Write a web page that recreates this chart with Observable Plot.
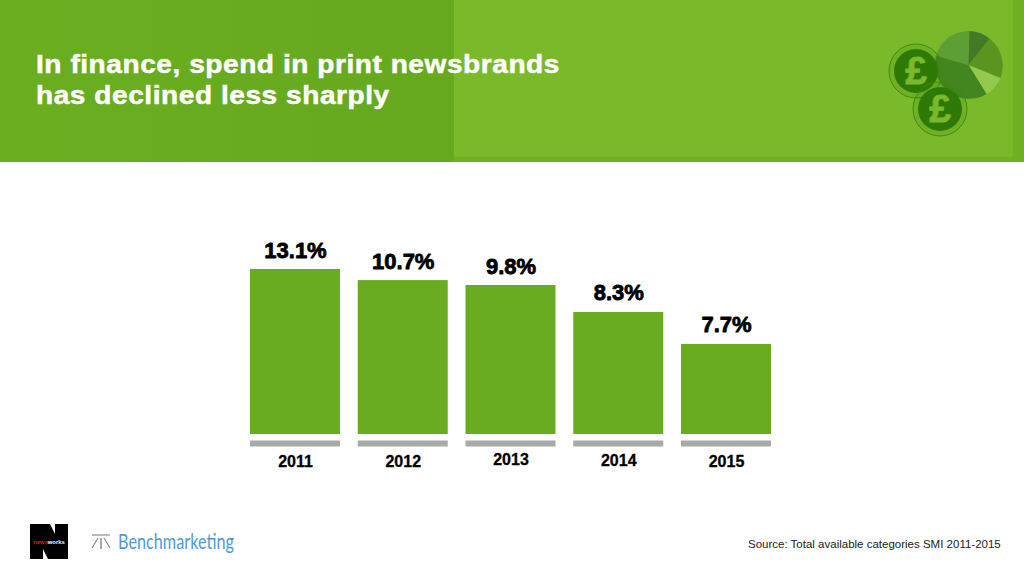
<!DOCTYPE html>
<html><head><meta charset="utf-8">
<script src="https://cdn.jsdelivr.net/npm/d3@7"></script>
<script src="https://cdn.jsdelivr.net/npm/@observablehq/plot@0.6"></script>
<style>
html,body{margin:0;padding:0;background:#fff;width:1024px;height:576px;overflow:hidden;font-family:"Liberation Sans",Arial,sans-serif}
#page{position:relative;width:1024px;height:576px;overflow:hidden}
#hdr{position:absolute;left:0;top:0;width:1024px;height:162px;background:linear-gradient(90deg,#6aae20 0,#66a91f 454px,#70b024 454px)}
#panel{position:absolute;left:454px;top:0;width:559px;height:157px;background:#7aba2a;border-radius:0 0 3px 3px}
#title{position:absolute;left:36px;top:49px;color:#fff;font-weight:700;font-size:26px;line-height:31px;letter-spacing:0.5px;white-space:nowrap;transform:scaleX(1.08);transform-origin:0 0;-webkit-text-stroke:0.5px #fff}
#plot{position:absolute;left:0;top:200px}
#src{position:absolute;left:748px;top:538px;font-size:11.5px;color:#222;white-space:nowrap}
#deco,#logos{position:absolute;left:0;top:0}
</style></head><body>
<div id="page">
<div id="hdr"></div><div id="panel"></div>
<svg id="deco" width="1024" height="162">
 <g transform="translate(968.5,65)">
  <circle r="34" fill="#5f9e35"/>
  <path d="M0,0L1,-34A34,34 0 0 1 21,-26Z" fill="#437a25"/>
  <path d="M0,0L21,-26A34,34 0 0 1 32,13Z" fill="#5a9520"/>
  <path d="M0,0L32,13A34,34 0 0 1 18,29Z" fill="#93c94f"/>
  <path d="M0,0L18,29A34,34 0 0 1 -32,-9Z" fill="#43861f"/>
 </g>
 <g font-family="Liberation Sans" font-weight="700" font-size="39" text-anchor="middle" fill="#7aba2a" stroke="#7aba2a" stroke-width="0.8">
  <circle cx="916" cy="71" r="27" fill="#2f7a0622" stroke="#3f8a12" stroke-width="1"/>
  <circle cx="916" cy="71" r="22" fill="#2f7a06" stroke="none"/>
  <text x="916" y="84">£</text>
  <circle cx="940" cy="109" r="27" fill="#2f7a0622" stroke="#3f8a12" stroke-width="1"/>
  <circle cx="940" cy="109" r="22" fill="#2f7a06" stroke="none"/>
  <text x="940" y="122">£</text>
 </g>
</svg>
<div id="title">In finance, spend in print newsbrands<br>has declined less sharply</div>
<div id="plot"></div>
<svg id="logos" width="420" height="576" style="pointer-events:none">
 <path d="M30,524H50L55,534V524H68V559H48L43,549V559H30Z" fill="#000"/>
 <text x="49" y="544" text-anchor="middle" font-family="Liberation Sans" font-weight="700" font-size="5.8" fill="#fff"><tspan fill="#d92020">news</tspan>works</text>
 <g stroke="#8c8c8c" stroke-width="1.2" fill="none"><path d="M92,535H110"/><path d="M101,538V549" stroke-width="1.5"/><path d="M98,538L92,548"/><path d="M104,538L110,548"/></g>
 <text x="118" y="549" font-family="Lato" font-weight="400" font-size="20.5" fill="#4f9ad6" textLength="116" lengthAdjust="spacingAndGlyphs">Benchmarketing</text>
</svg>
<div id="src">Source: Total available categories SMI 2011-2015</div>
</div>
<script>
const years = ["2011","2012","2013","2014","2015"];
const shareLabels = ["13.1%","10.7%","9.8%","8.3%","7.7%"];
// Bar lengths as pictured: the source's bars are not proportional to their printed labels.
const drawnBarLevels = [13.1,12.22,11.83,9.69,7.15];
const yearLabelLift = [0,0,2,1,0];

const rows = years.map((year,i)=>({year,label:shareLabels[i],level:drawnBarLevels[i],lift:yearLabelLift[i]}));
const dark = "#000";
const chart = Plot.plot({
  width:1024,height:290,margin:0,
  style:{background:"transparent",fontFamily:"Liberation Sans"},
  x:{domain:years,range:[250,771],paddingInner:0.165,paddingOuter:0,round:false,axis:null},
  y:{domain:[0,13.1],range:[234,69],axis:null},
  marks:[
    Plot.barY(rows,{x:"year",y:"level",fill:"#69ac1f"}),
    Plot.tickY(rows,{x:"year",y:()=>0,dy:9,stroke:"#a9a9a9",strokeWidth:6}),
    Plot.text(rows,{x:"year",y:"level",text:"label",dy:-19,fill:dark,stroke:dark,strokeWidth:0.8,fontSize:22,fontWeight:700,lineAnchor:"middle"}),
    ...[0,1,2].map(l=>Plot.text(rows.filter(r=>r.lift===l),{x:"year",y:()=>0,text:"year",dy:27-l,fill:dark,stroke:dark,strokeWidth:0.3,fontSize:16,fontWeight:700,lineAnchor:"middle"}))
  ]
});
document.getElementById("plot").appendChild(chart);
</script>
</body></html>
